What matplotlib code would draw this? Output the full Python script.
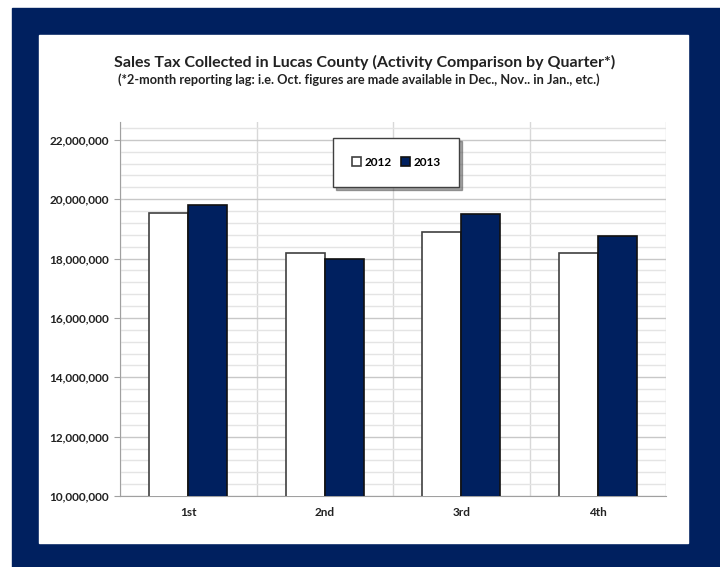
import numpy as np
import matplotlib.pyplot as plt
from matplotlib.patches import Rectangle
from matplotlib.ticker import FuncFormatter, MultipleLocator

# Quarterly sales tax collected
quarters = ["1st", "2nd", "3rd", "4th"]
sales_2012 = [19540000, 18200000, 18880000, 18180000]
sales_2013 = [19800000, 17970000, 19500000, 18760000]

navy = "#00205f"

plt.rcParams['font.family'] = ['Lato', 'DejaVu Sans']

fig = plt.figure(figsize=(7.2, 5.67), dpi=100)
W, H = 720, 567

# Navy frame and white panel
fig.patches.append(Rectangle((12 / W, 0), 1 - 12 / W, 1 - 8 / H,
                             transform=fig.transFigure, color=navy, zorder=0))
fig.patches.append(Rectangle((39 / W, 1 - 543 / H), (688 - 39) / W, (543 - 35) / H,
                             transform=fig.transFigure, color="white", zorder=1))

ax = fig.add_axes([120 / W, 1 - 496 / H, (666 - 120) / W, (496 - 122) / H])
ax.set_zorder(2)
ax.patch.set_alpha(0)

x = np.arange(len(quarters))
w = 0.284
ax.bar(x - w / 2, sales_2012, w, color="white", edgecolor="#404040", linewidth=1.2,
       label="2012", zorder=3)
ax.bar(x + w / 2, sales_2013, w, color=navy, edgecolor="#111111", linewidth=1.2,
       label="2013", zorder=3)

ax.set_xlim(-0.5, 3.5)
ax.set_ylim(10000000, 22600000)
ax.yaxis.set_major_locator(MultipleLocator(2000000))
ax.yaxis.set_minor_locator(MultipleLocator(400000))
ax.yaxis.set_major_formatter(FuncFormatter(lambda v, p: f"{int(v):,}"))
ax.set_xticks(x)
ax.set_xticklabels(quarters)
ax.set_xticks(np.arange(-0.5, 4.0, 0.5), minor=True)

ax.grid(True, which="major", axis="y", color="#c8c8c8", linewidth=1.0, zorder=0)
ax.grid(True, which="minor", axis="y", color="#e4e4e4", linewidth=1.0, zorder=0)
ax.grid(True, which="minor", axis="x", color="#d8d8d8", linewidth=1.0, zorder=0)

for s in ["top", "right"]:
    ax.spines[s].set_visible(False)
ax.spines["left"].set_color("#a0a0a0")
ax.spines["bottom"].set_color("#a0a0a0")

ax.tick_params(axis="y", which="major", length=4, color="#a0a0a0", labelsize=8.5,
               pad=4)
ax.tick_params(axis="y", which="minor", length=0)
ax.tick_params(axis="x", which="both", length=0, labelsize=8.5, pad=8)
for lbl in ax.get_yticklabels() + ax.get_xticklabels():
    lbl.set_fontweight("bold")
    lbl.set_color("#222222")

leg = ax.legend(loc="upper left", bbox_to_anchor=((333 - 120) / 546, 1 - (138 - 122) / 374),
                ncol=2, frameon=True, fancybox=False, shadow=True, borderaxespad=0,
                prop={"weight": "bold", "size": 8.5}, handlelength=0.8, handleheight=0.8,
                handletextpad=0.25, columnspacing=0.8, borderpad=1.6)
leg.get_frame().set_edgecolor("#404040")
leg.get_frame().set_linewidth(1.0)

fig.text(365 / W, 1 - 62 / H, "Sales Tax Collected in Lucas County (Activity Comparison by Quarter*)",
         ha="center", va="center", fontsize=11.5, fontweight="bold", color="#222222", zorder=3)
fig.text(118 / W, 1 - 80 / H,
         "(*2-month reporting lag: i.e. Oct. figures are made available in Dec., Nov.. in Jan., etc.)",
         ha="left", va="center", fontsize=9.2, fontweight="bold", color="#222222", zorder=3)

fig.savefig("out.png", dpi=100)
